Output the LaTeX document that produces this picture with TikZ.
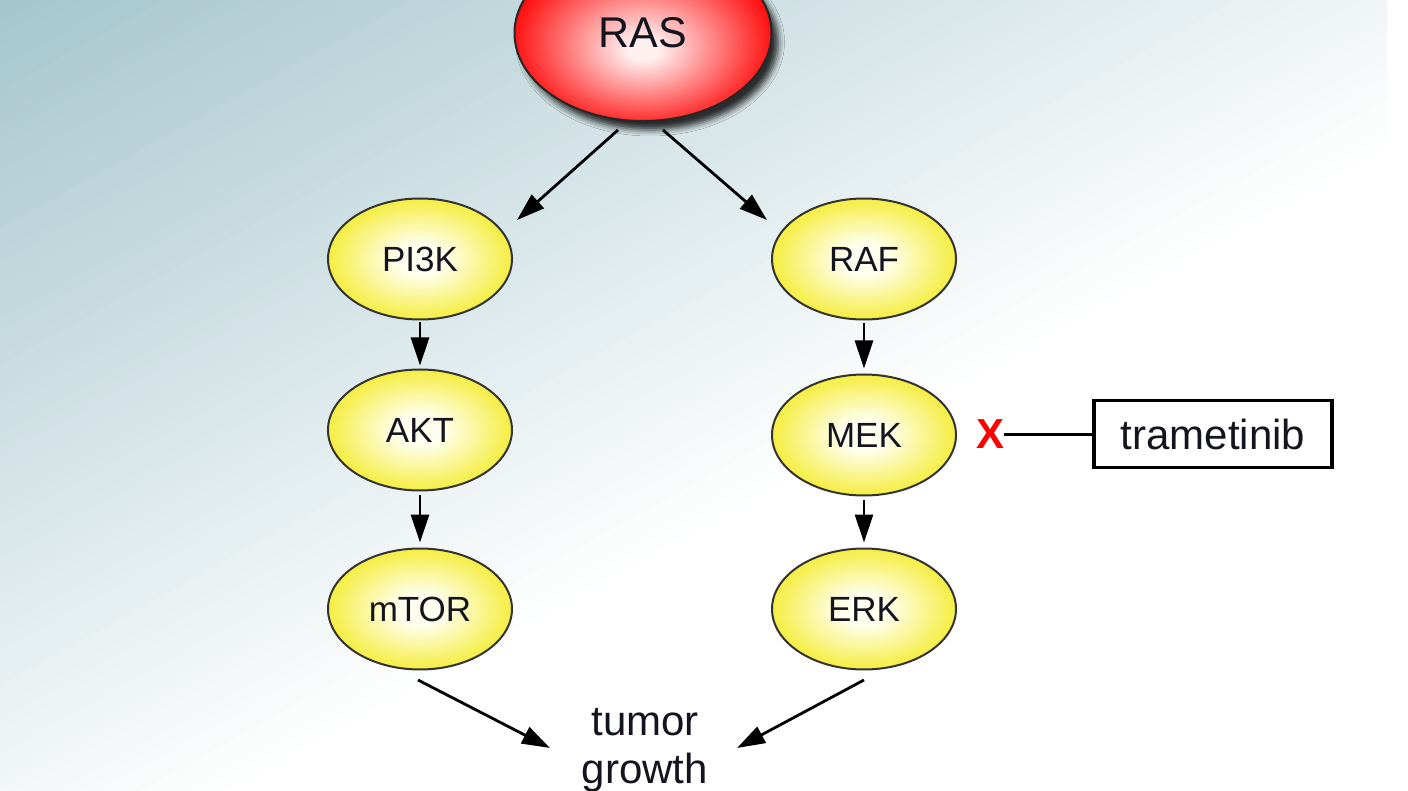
\documentclass[tikz,border=0pt]{standalone}
\usepackage{fontspec}
\setmainfont{Liberation Sans}
\usetikzlibrary{arrows.meta,shapes.geometric,shadows.blur,calc}
\definecolor{bgdark}{RGB}{166,198,205}
\definecolor{yelc}{RGB}{255,255,240}
\definecolor{yelo}{RGB}{242,232,10}
\definecolor{redc}{RGB}{255,240,240}
\definecolor{redo}{RGB}{255,0,0}
\definecolor{txt}{RGB}{20,20,30}
\pgfdeclareradialshading{yellowball}{\pgfpoint{0bp}{0bp}}{color(0bp)=(yelc); color(6bp)=(yelc); color(31bp)=(yelo); color(50bp)=(yelo)}
\pgfdeclareradialshading{redball}{\pgfpoint{0bp}{-5bp}}{color(0bp)=(redc); color(3bp)=(redc); color(27bp)=(redo); color(50bp)=(redo)}
\begin{document}
\begin{tikzpicture}[x=1pt,y=-1pt,
  gene/.style={ellipse, draw=black!80, line width=2pt, shade, shading=yellowball,
    minimum width=184pt, minimum height=121pt, inner sep=0pt, text=txt,
    font=\fontsize{35}{40}\selectfont},
  rasnode/.style={ellipse, draw=black!85, line width=2pt, shade, shading=redball,
    minimum width=257pt, minimum height=176pt, inner sep=0pt, text=txt,
    font=\fontsize{43}{48}\selectfont,
    blur shadow={shadow xshift=7pt, shadow yshift=-9pt, shadow blur radius=6pt, shadow opacity=80}},
  arr/.style={line width=2.8pt, draw=black, -{Triangle[length=28pt,width=18pt]}},
  inhib/.style={line width=3pt, draw=black},
  drugbox/.style={draw=black, line width=3.4pt, fill=white, minimum width=238pt, minimum height=67pt,
    inner sep=0pt, text=txt, font=\fontsize{42}{48}\selectfont},
  outtext/.style={align=center, text=txt, font=\fontsize{42}{48}\selectfont, inner sep=0pt},
  xmark/.style={text=red, inner sep=0pt, font=\fontsize{42}{46}\selectfont\bfseries}
]
\useasboundingbox (0,0) rectangle (1408,791);
\fill[white] (0,0) rectangle (1408,791);
% background gradient
\begin{scope}
  \clip (0,0) rectangle (1387,791);
  \begin{scope}[x=1pt,y=1pt,rotate=29]
    \foreach \k in {0,...,79}{
      \pgfmathtruncatemacro{\p}{min(100,\k*100/80)}
      \fill[white!\p!bgdark] (-3000,-\k*10+0.6) rectangle (3000,-\k*10-10);
    }
  \end{scope}
\end{scope}

% nodes
\node[rasnode] (ras) at (643,33) {RAS};
\node[gene] (pi3k) at (420,259) {PI3K};
\node[gene] (akt)  at (420,430) {AKT};
\node[gene] (mtor) at (420,609) {mTOR};
\node[gene] (raf)  at (864,259) {RAF};
\node[gene] (mek)  at (864,435) {MEK};
\node[gene] (erk)  at (864,609) {ERK};
\node[drugbox] (tram) at (1213,434) {trametinib};
\node[xmark] (x) at (990,434) {X};
\node[outtext] (tumor) at (645,750) {tumor\\growth};

% connectors
\draw[arr] ($(ras)+(-25,97)$) -- ($(pi3k)+(97,-39)$);
\draw[arr] ($(ras)+(20,97)$) -- ($(raf)+(-97,-39)$);
\draw[arr] ($(pi3k.south)+(0,2)$) -- ($(akt.north)+(0,-3)$);
\draw[arr] ($(akt.south)+(0,3)$) -- ($(mtor.north)+(0,-5)$);
\draw[arr] ($(raf.south)+(0,3)$) -- ($(mek.north)+(0,-5)$);
\draw[arr] ($(mek.south)+(0,3)$) -- ($(erk.north)+(0,-5)$);
\draw[arr] ($(mtor)+(-2,71)$) -- ($(tumor)+(-95,-2)$);
\draw[arr] ($(erk)+(0,71)$) -- ($(tumor)+(92,-2)$);
\draw[inhib] (tram.west) -- (x.east);
\end{tikzpicture}
\end{document}
